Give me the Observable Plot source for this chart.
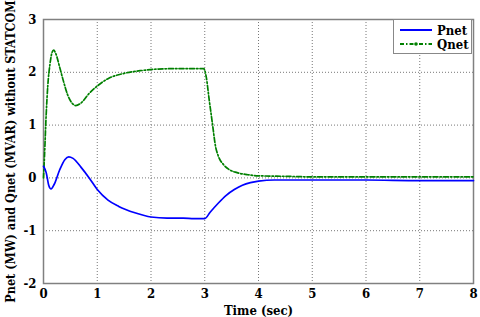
<!DOCTYPE html>
<html><head><meta charset="utf-8">
<script src="https://cdn.jsdelivr.net/npm/d3@7"></script>
<script src="https://cdn.jsdelivr.net/npm/@observablehq/plot@0.6"></script>
<style>
body{margin:0;background:#fff;}
#wrap{position:relative;width:480px;height:317px;}
#wrap svg text{font-family:"DejaVu Serif Condensed","DejaVu Serif",serif !important;font-stretch:condensed;font-weight:bold;}
#legend{position:absolute;left:393px;top:19px;width:79px;height:35px;border:1px solid #888;background:#fff;font-family:"DejaVu Serif Condensed","DejaVu Serif",serif;font-stretch:condensed;font-weight:bold;font-size:13px;box-sizing:border-box;}
.row{position:absolute;left:6px;display:flex;align-items:center;height:16px;}
.row svg{margin-right:5px;}
</style></head>
<body><div id="wrap"><div id="legend"></div></div>
<script>
const pnetT=[0,0.05,0.1,0.14,0.2,0.3,0.4,0.47,0.55,0.7,0.85,1.0,1.2,1.4,1.7,2.0,2.3,2.6,2.8,3.0,3.1,3.25,3.4,3.55,3.7,3.85,4.0,4.3,5,6,7,8];
const pnetV=[0.22,0.1,-0.15,-0.21,-0.12,0.15,0.35,0.40,0.37,0.2,0.0,-0.22,-0.42,-0.54,-0.66,-0.74,-0.76,-0.76,-0.77,-0.77,-0.65,-0.48,-0.33,-0.22,-0.14,-0.09,-0.06,-0.04,-0.04,-0.04,-0.05,-0.05];
const qnetT=[0,0.02,0.05,0.08,0.12,0.16,0.19,0.23,0.3,0.38,0.45,0.52,0.6,0.7,0.85,1.0,1.2,1.5,1.8,2.1,2.5,2.98,3.03,3.08,3.14,3.2,3.25,3.35,3.45,3.6,3.8,4.0,4.5,5,6,7,8];
const qnetV=[0,0.45,1.2,1.75,2.15,2.38,2.42,2.35,2.1,1.8,1.57,1.43,1.37,1.42,1.6,1.74,1.88,1.98,2.03,2.06,2.07,2.07,1.9,1.5,1.05,0.6,0.42,0.25,0.16,0.1,0.06,0.04,0.03,0.02,0.02,0.02,0.02];
const xTicks=[0,1,2,3,4,5,6,7,8];
const yTicks=[-2,-1,0,1,2,3];
const seriesNames=["Pnet","Qnet"];
const seriesColors=["#0000ff","#008000"];

const pnet=pnetT.map((t,i)=>({t,v:pnetV[i]}));
const qnet=qnetT.map((t,i)=>({t,v:qnetV[i]}));
const font='DejaVu Serif Condensed';

const chart=Plot.plot({
  width:480,height:317,
  marginLeft:43,marginRight:7,marginTop:19,marginBottom:34,
  style:{fontFamily:font,fontWeight:"bold",fontSize:"13px",color:"#000",background:"#fff"},
  x:{domain:[0,8],ticks:xTicks,label:null},
  y:{domain:[-2,3],ticks:yTicks,label:null},
  marks:[
    Plot.gridX(xTicks,{stroke:"#777",strokeOpacity:1,strokeDasharray:"1,2",strokeWidth:1}),
    Plot.gridY(yTicks,{stroke:"#777",strokeOpacity:1,strokeDasharray:"1,2",strokeWidth:1}),
    Plot.frame({stroke:"#808080",strokeWidth:1.5}),
    Plot.axisX(xTicks,{tickSize:0,tickPadding:5,fontSize:13,fontFamily:font,fontWeight:"bold",tickFormat:d=>String(d),label:null}),
    Plot.axisY(yTicks,{tickSize:0,tickPadding:7,fontSize:13,fontFamily:font,fontWeight:"bold",tickFormat:d=>String(d),label:null}),
    Plot.axisX({anchor:"bottom",ticks:[],tickSize:0,fontSize:13,label:"Time (sec)",labelAnchor:"center",labelOffset:31,labelArrow:"none"}),
    Plot.axisY({anchor:"left",ticks:[],tickSize:0,fontSize:12.5,label:"Pnet (MW) and Qnet (MVAR) without STATCOM",labelAnchor:"center",labelOffset:37,labelArrow:"none"}),
    Plot.line(qnet,{x:"t",y:"v",stroke:seriesColors[1],strokeWidth:1.7,strokeDasharray:"5,2,1.5,2",curve:"monotone-x"}),
    Plot.line(pnet,{x:"t",y:"v",stroke:seriesColors[0],strokeWidth:1.7,curve:"monotone-x"})
  ]
});
document.getElementById("wrap").prepend(chart);

const lg=document.getElementById("legend");
seriesNames.forEach((n,i)=>{
  const r=document.createElement("div");r.className="row";r.style.top=(i===0?2:16)+"px";
  const dash=i===0?"":'stroke-dasharray="4,2,1.5,2"';
  const dot=i===1?`<circle cx="16" cy="8" r="1.8" fill="${seriesColors[i]}"/>`:"";
  r.innerHTML=`<svg width="32" height="16"><line x1="0" x2="32" y1="8" y2="8" stroke="${seriesColors[i]}" stroke-width="2" ${dash}/>${dot}</svg><span>${n}</span>`;
  lg.appendChild(r);
});
</script></body></html>
